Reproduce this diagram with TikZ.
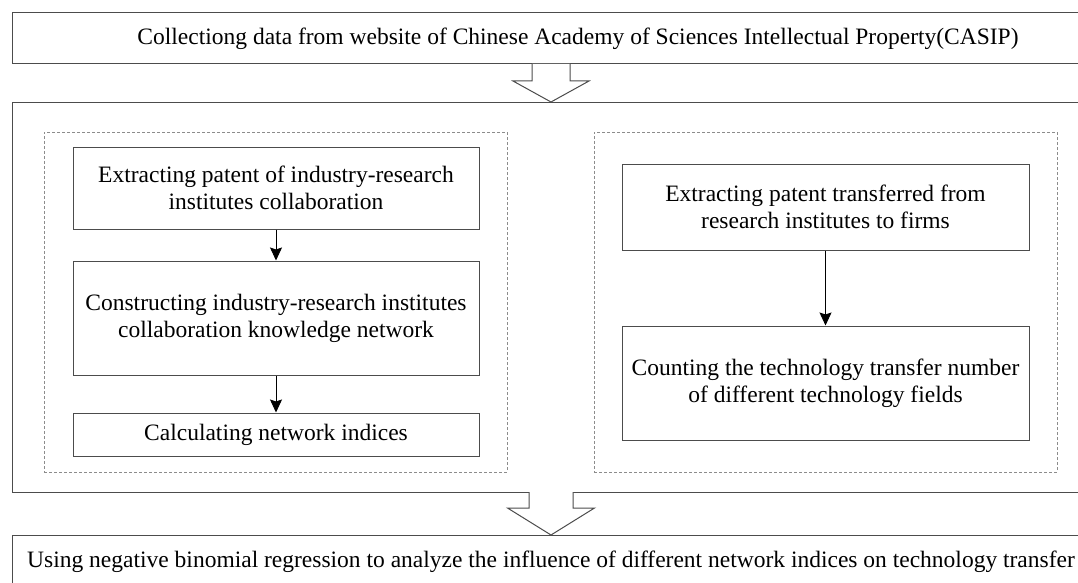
\documentclass[tikz,border=0pt]{standalone}
\usepackage{fontspec}
\setmainfont{Liberation Serif}
\usetikzlibrary{arrows.meta,positioning}
\tikzset{
  box/.style={draw=black!70, line width=1pt, align=center, inner sep=0pt, font=\fontsize{23.5}{27}\selectfont},
  group/.style={draw=black!45, line width=0.8pt, dash pattern=on 3pt off 2pt, inner sep=0pt},
  flow/.style={-{Stealth[length=13pt,width=12pt,inset=2pt]}, line width=0.9pt},
  hollow/.style={draw=black!70, line width=1pt, fill=white}
}
\begin{document}
\begin{tikzpicture}[x=1pt,y=-1pt]
\clip (0,0) rectangle (1078,583);
\node[box, minimum width=1132pt, minimum height=51pt] (collect) at (578,38.5) {Collectiong data from website of Chinese Academy of Sciences Intellectual Property(CASIP)};
\node[box, minimum width=1100pt, minimum height=389pt] (frame) at (562,297.5) {};
\node[box, minimum width=1078pt, minimum height=54pt] (regress) at (551,562) {Using negative binomial regression to analyze the influence of different network indices on technology transfer};
% hollow arrows
\coordinate (tail1) at (551,64);
\coordinate (tail2) at (551,492);
\draw[hollow] (tail1) ++(-19,0) -- ++(0,17) -- ++(-19,0) -- ++(38,21) -- ++(38,-21) -- ++(-19,0) -- ++(0,-17);
\draw[hollow] (tail2) ++(-22,0) -- ++(0,16) -- ++(-21.5,0) -- ++(43.5,27) -- ++(43.5,-27) -- ++(-21.5,0) -- ++(0,-16);
% left part
\node[group, minimum width=463pt, minimum height=340pt] (leftgrp) at (275.5,302) {};
\node[box, minimum width=406pt, minimum height=82pt] (extract) at (276,188) {Extracting patent of industry-research\\institutes collaboration};
\node[box, minimum width=406pt, minimum height=114pt] (build) at (276,318) {Constructing industry-research institutes\\collaboration knowledge network};
\node[box, minimum width=406pt, minimum height=43pt] (calc) at (276,434.5) {Calculating network indices};
% right part
\node[group, minimum width=463pt, minimum height=340pt] (rightgrp) at (825.5,302) {};
\node[box, minimum width=407pt, minimum height=86pt] (transfer) at (825.5,207) {Extracting patent transferred from\\research institutes to firms};
\node[box, minimum width=407pt, minimum height=114pt] (count) at (825.5,383) {Counting the technology transfer number\\of different technology fields};
\draw[flow] (extract) -- (build);
\draw[flow] (build) -- (calc);
\draw[flow] (transfer) -- (count);
\end{tikzpicture}
\end{document}
